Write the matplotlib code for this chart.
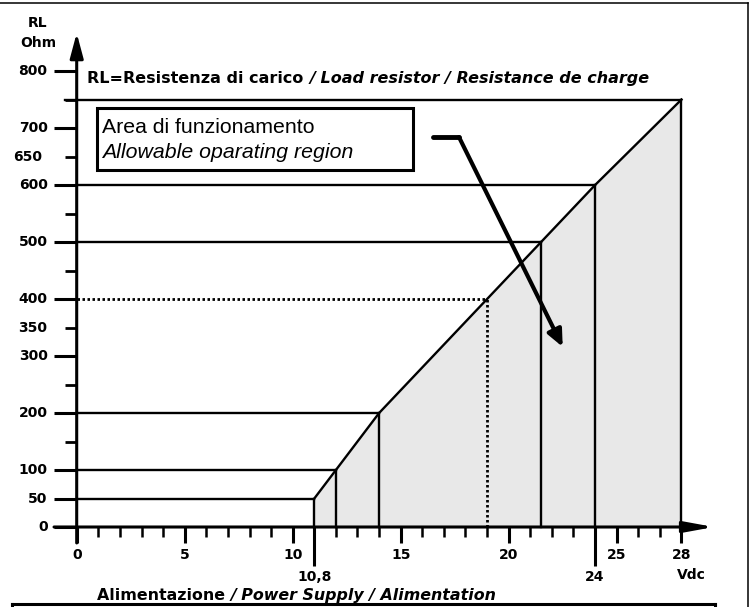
import matplotlib.pyplot as plt
from matplotlib.lines import Line2D
from matplotlib.patches import Rectangle

# corner points of the allowable region (Vdc, Ohm)
# the drawing puts the 10,8 V corner on the 11 V tick
supply_v = [11, 12, 14, 19, 21.5, 24, 28]
load_ohm = [50, 100, 200, 400, 500, 600, 750]
dotted_idx = 3

y_labels = [0, 50, 100, 200, 300, 350, 400, 500, 600, 650, 700, 800]
y_long = [0, 50, 100, 200, 300, 400, 500, 600, 700, 800]
y_short = [150, 250, 350, 450, 550, 650, 750]
x_labels = [0, 5, 10, 15, 20, 25, 28]
x_minor = list(range(1, 28))
x_extra = [11, 24]
x_extra_labels = ["10,8", "24"]

plt.rcParams['font.family'] = ['DejaVu Sans']

fig = plt.figure(figsize=(7.52, 6.07), dpi=100)
ax = fig.add_axes([0, 0, 1, 1])
ax.set_xlim(-3.551, 31.264)
ax.set_ylim(-140.35, 924.6)
ax.axis('off')

k = 'black'
fill_c = '#e8e8e8'
fs = 10

# shaded region under the limit line
ax.fill_between(supply_v, load_ohm, 0, color=fill_c, lw=0, zorder=1)
ax.plot(supply_v, load_ohm, color=k, lw=1.7, zorder=3, solid_joinstyle='miter')

for i, (v, r) in enumerate(zip(supply_v, load_ohm)):
    ls = (0, (0.9, 0.9)) if i == dotted_idx else '-'
    lw = 2.0 if i == dotted_idx else 1.7
    x0 = -0.54 if r == 750 else 0
    ax.plot([x0, v], [r, r], color=k, lw=lw, ls=ls, zorder=2)
    ax.plot([v, v], [0, r], color=k, lw=lw, ls=ls, zorder=2)

# y ticks
for y in y_long:
    ax.plot([-1.05, 0], [y, y], color=k, lw=2.2, zorder=2, solid_capstyle='butt')
for y in y_short:
    ax.plot([-0.54, 0], [y, y], color=k, lw=2.0, zorder=2, solid_capstyle='butt')
for y in y_labels:
    xl = -1.6 if y == 650 else -1.35
    ax.text(xl, y, str(y), ha='right', va='center', fontsize=fs,
            fontweight='bold')

# x ticks
for x in x_minor:
    ax.plot([x, x], [0, -17.5], color=k, lw=1.8, zorder=2, solid_capstyle='butt')
for x in x_labels:
    ax.plot([x, x], [0, -28], color=k, lw=2.2, zorder=2, solid_capstyle='butt')
    ax.text(x, -49, str(x), ha='center', va='center', fontsize=fs,
            fontweight='bold')
for x, lab in zip(x_extra, x_extra_labels):
    ax.plot([x, x], [0, -68], color=k, lw=2.2, zorder=2, solid_capstyle='butt')
    ax.text(x, -87, lab, ha='center', va='center', fontsize=fs,
            fontweight='bold')

# axes with arrow heads
ax.annotate('', xy=(0, 866.7), xytext=(0, -28),
            arrowprops=dict(arrowstyle='-|>,head_length=1.5,head_width=0.4',
                            mutation_scale=10, lw=2.2, color=k,
                            shrinkA=0, shrinkB=0), zorder=4)
ax.annotate('', xy=(29.5, 0), xytext=(-1.05, 0),
            arrowprops=dict(arrowstyle='-|>,head_length=1.8,head_width=0.33',
                            mutation_scale=10, lw=2.2, color=k,
                            shrinkA=0, shrinkB=0), zorder=4)

ax.text(-1.8, 884, "RL", ha='center', va='center', fontsize=fs, fontweight='bold')
ax.text(-1.8, 849, "Ohm", ha='center', va='center', fontsize=fs, fontweight='bold')
ax.text(28.45, -84, "Vdc", ha='center', va='center', fontsize=fs, fontweight='bold')


def rich(x, y, parts, **kw):
    fig.canvas.draw()
    r = fig.canvas.get_renderer()
    for s, style in parts:
        t = ax.text(x, y, s, style=style, ha='left', va='center', **kw)
        bb = t.get_window_extent(r)
        x = ax.transData.inverted().transform((bb.x1, bb.y0))[0]


rich(0.48, 787.7, [("RL=Resistenza di carico ", 'normal'),
                   ("/ Load resistor / Resistance de charge", 'italic')],
     fontsize=11.5, fontweight='bold')
rich(0.94, -119.3, [("Alimentazione ", 'normal'),
                    ("/ Power Supply / Alimentation", 'italic')],
     fontsize=11.4, fontweight='bold')

# label box
ax.add_patch(Rectangle((0.944, 626.3), 14.63, 108.8, fc='white', ec=k,
                       lw=2.2, zorder=5))
box_font = ['Liberation Sans', 'DejaVu Sans']
ax.text(1.18, 690.7, "Area di funzionamento", family=box_font, fontsize=15.3,
        va='baseline', ha='left', zorder=6)
ax.text(1.18, 646.8, "Allowable oparating region", family=box_font, fontsize=15.3,
        style='italic', va='baseline', ha='left', zorder=6)

# pointer arrow
ax.plot([16.5, 17.7], [684, 684], color=k, lw=3.5, solid_capstyle='round', zorder=4)
ax.annotate('', xy=(22.5, 316), xytext=(17.7, 684),
            arrowprops=dict(arrowstyle='-|>,head_length=1.0,head_width=0.45',
                            mutation_scale=10, lw=3, color=k,
                            shrinkA=0, shrinkB=0), zorder=4)

# page frame
fig.add_artist(Line2D([0, 0.9947], [0.995, 0.995], color=k, lw=1.1))
fig.add_artist(Line2D([0.9947, 0.9947], [0.995, 0], color=k, lw=1.1))
fig.add_artist(Line2D([0.016, 0.951], [0.005, 0.005], color=k, lw=2.2))
fig.add_artist(Line2D([0.016, 0.016], [0.005, 0], color=k, lw=2.2))
fig.add_artist(Line2D([0.951, 0.951], [0.005, 0], color=k, lw=2.2))

fig.savefig("out.png", dpi=100)
